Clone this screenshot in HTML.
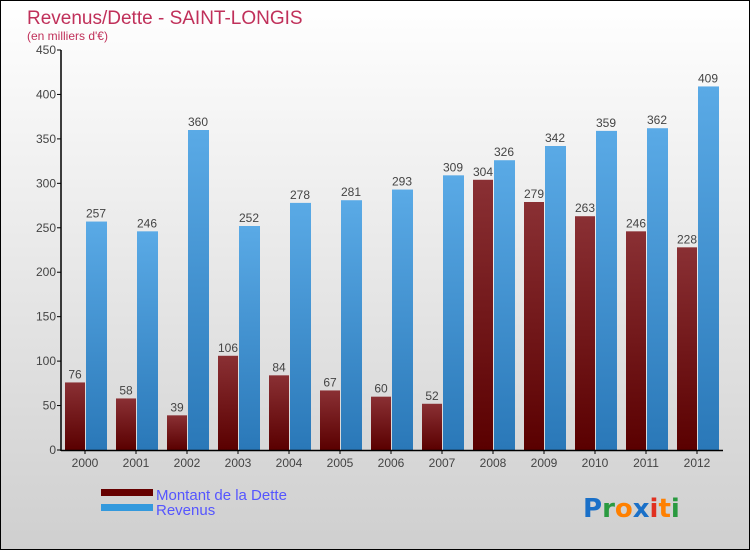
<!DOCTYPE html>
<html><head><meta charset="utf-8"><style>
body{margin:0}
#c{position:relative;width:748px;height:548px;border:1px solid #000;background:linear-gradient(#ffffff,#cfcfcf);font-family:"Liberation Sans",sans-serif;overflow:hidden}
</style></head><body>
<div id="c">
<svg id="s" width="748" height="548">
<defs>
<linearGradient id="gd" x1="0" y1="0" x2="0" y2="1"><stop offset="0" stop-color="#8a3034"/><stop offset="1" stop-color="#5a0000"/></linearGradient>
<linearGradient id="gr" x1="0" y1="0" x2="0" y2="1"><stop offset="0" stop-color="#5aaae6"/><stop offset="1" stop-color="#2a78b8"/></linearGradient>
</defs>
<text x="26" y="23" font-size="19" fill="#c0305a">Revenus/Dette - SAINT-LONGIS</text>
<text x="26" y="39" font-size="12" fill="#c0305a">(en milliers d'€)</text>
<g id="g"></g>
<rect x="100" y="488" width="52" height="7" fill="#660000"/>
<rect x="100" y="503" width="52" height="7" fill="#3399dd"/>
<text x="155" y="499" font-size="15" fill="#5555ff">Montant de la Dette</text>
<text x="155" y="514" font-size="15" fill="#5555ff">Revenus</text>
<text x="582" y="516" font-size="26" font-weight="bold" font-family="DejaVu Sans,sans-serif"><tspan fill="#1a70c8">P</tspan><tspan fill="#2a9a40">r</tspan><tspan fill="#ff8000">o</tspan><tspan fill="#1a70c8">x</tspan><tspan fill="#e03020">i</tspan><tspan fill="#ff8000">t</tspan><tspan fill="#2a9a40">i</tspan></text>
</svg>
</div>
<script>
const categories=["2000","2001","2002","2003","2004","2005","2006","2007","2008","2009","2010","2011","2012"];
const dette=[76,58,39,106,84,67,60,52,304,279,263,246,228];
const revenus=[257,246,360,252,278,281,293,309,326,342,359,362,409];
const yTicks=[0,50,100,150,200,250,300,350,400,450];
const NS="http://www.w3.org/2000/svg";
const g=document.getElementById('g');
const y=v=>449-v*(400/450);
const xc=i=>84+i*51;
function mk(t,a,txt){const e=document.createElementNS(NS,t);for(const k in a)e.setAttribute(k,a[k]);if(txt!=null)e.textContent=txt;g.appendChild(e);return e;}
yTicks.forEach(v=>{
const t=mk('text',{x:55,y:y(v)+4,'font-size':12,fill:'#444','text-anchor':'end'},v);


mk('line',{x1:56,x2:60,y1:y(v),y2:y(v),stroke:'#000'});
});
categories.forEach((c,i)=>{
const x=xc(i);
const b1=mk('rect',{x:x-20,y:y(dette[i]),width:20,height:y(0)-y(dette[i]),fill:'url(#gd)'});


const b2=mk('rect',{x:x+1,y:y(revenus[i]),width:21,height:y(0)-y(revenus[i]),fill:'url(#gr)'});


const l1=mk('text',{x:x-10,y:y(dette[i])-4,'font-size':12,fill:'#444','text-anchor':'middle'},dette[i]);


const l2=mk('text',{x:x+11,y:y(revenus[i])-4,'font-size':12,fill:'#444','text-anchor':'middle'},revenus[i]);


const xl=mk('text',{x:x,y:466,'font-size':12,fill:'#444','text-anchor':'middle'},c);


mk('line',{x1:x,x2:x,y1:449,y2:453,stroke:'#000'});
});
const ax=mk('line',{x1:60,x2:60,y1:49,y2:450,stroke:'#000','stroke-width':1.5});


const bx=mk('line',{x1:60,x2:722,y1:449.5,y2:449.5,stroke:'#000','stroke-width':1.5});


</script>
</body></html>
